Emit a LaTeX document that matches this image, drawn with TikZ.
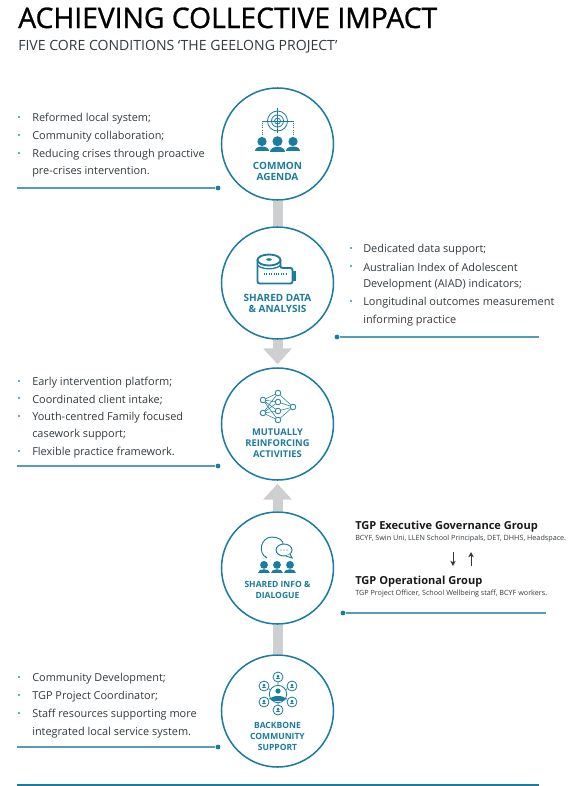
\documentclass[tikz,border=0pt]{standalone}
\usepackage{fontspec}
\setmainfont{Open Sans}
\newfontfamily\titlefont[RawFeature={embolden=0.9}]{Open Sans}
\usetikzlibrary{arrows.meta,backgrounds}
\definecolor{tealc}{HTML}{1B7C9E}
\definecolor{barc}{HTML}{CDCFD1}
\definecolor{textc}{HTML}{333A3F}
\definecolor{tickc}{HTML}{5FB3C6}
\tikzset{
  stage/.style={draw=tealc,line width=1.15pt,circle,fill=white,minimum size=84pt,inner sep=0pt},
  stagetext/.style={text=tealc,font=\fontsize{#1}{8.3pt}\selectfont\bfseries,align=center,inner sep=0pt},
  stagetext/.default=7.5pt,
  bar/.style={draw=barc,line width=7.5pt},
  bararrow/.style={bar,-{Triangle[length=12pt,width=21pt]},shorten >=2.2pt},
  item/.style={anchor=west,inner sep=0pt,yshift=-1.2pt,text=textc,font=\fontsize{8.2pt}{9pt}\selectfont},
  tick/.style={fill=tickc,minimum size=2.2pt,inner sep=0pt},
  dot/.style={circle,fill=tealc,minimum size=3.6pt,inner sep=0pt},
  leader/.style={draw=tealc!75,line width=.8pt},
  group/.style={anchor=west,inner sep=0pt,yshift=-1.2pt,text=black!90,font=\fontsize{8.3pt}{9pt}\selectfont\bfseries},
  groupsub/.style={anchor=west,inner sep=0pt,yshift=-.6pt,text=textc,font=\fontsize{5.4pt}{7pt}\selectfont},
  netdot/.style={circle,draw=tealc,fill=white,line width=.6pt,minimum size=4.2pt,inner sep=0pt},
  ringdot/.style={circle,draw=tealc,fill=white,line width=.6pt,minimum size=7.5pt,inner sep=0pt},
  person/.pic={
    \fill[tealc] (0,-2.5) circle (4.6);
    \fill[tealc] (-7,7) .. controls (-7,1) and (7,1) .. (7,7) -- cycle;
  },
}
\begin{document}
\begin{tikzpicture}[x=0.75pt,y=-0.75pt]
  \useasboundingbox (0,0) rectangle (570,786);

  % heading
  \node[anchor=base west,inner sep=0pt,font=\fontsize{21.2pt}{24pt}\titlefont,text=black] (title) at (18,28) {ACHIEVING COLLECTIVE IMPACT};
  \node[anchor=base west,inner sep=0pt,font=\fontsize{10.55pt}{12pt}\selectfont,text=textc] (subtitle) at (18,50) {FIVE CORE CONDITIONS ‘THE GEELONG PROJECT’};

  % circles
  \node[stage] (agenda) at (277.5,144) {};
  \node[stage] (data) at (277.5,283) {};
  \node[stage] (mutual) at (277.5,424) {};
  \node[stage] (dialogue) at (277.5,568) {};
  \node[stage] (backbone) at (277.5,711) {};

  % bars between circles
  \begin{scope}[on background layer]
    \draw[bar] (agenda) -- (data);
    \draw[bararrow] (data) -- (mutual);
    \draw[bararrow] (dialogue) -- (mutual);
    \draw[bar] (dialogue) -- (backbone);
  \end{scope}

  % labels in the circles
  \node[stagetext] (agendatext) at (277.5,171) {COMMON\\AGENDA};
  \node[stagetext] (datatext) at (277.5,303.5) {SHARED DATA\\\& ANALYSIS};
  \node[stagetext=7pt] (mutualtext) at (277.5,443) {MUTUALLY\\REINFORCING\\ACTIVITIES};
  \node[stagetext=6.4pt] (dialoguetext) at (277.5,589.5) {SHARED INFO \&\\DIALOGUE};
  \node[stagetext=6.4pt] (backbonetext) at (277.5,736.5) {BACKBONE\\COMMUNITY\\SUPPORT};

  % icon: target and people
  \draw[tealc,line width=.6pt] (277.5,121) circle (10);
  \draw[tealc,line width=.6pt] (277.5,121) circle (6);
  \draw[tealc,line width=.6pt] (277.5,121) circle (3);
  \draw[tealc,line width=.6pt] (262,121) -- (293,121);
  \draw[tealc,line width=.6pt] (277.5,108) -- (277.5,133);
  \draw[tealc,line width=.6pt,densely dotted] (262,121) -- (262,135);
  \draw[tealc,line width=.6pt,densely dotted] (293,121) -- (293,135);
  \pic at (262,144) {person};
  \pic[scale=1.1] at (277.5,144) {person};
  \pic at (293,144) {person};

  % icon: tape
  \draw[tealc,line width=1.4pt,fill=white,rounded corners=1.5pt] (257.5,260) -- (257.5,283.5) -- (292.5,283.5) -- (292.5,268) -- (280.5,268) -- (280.5,260);
  \fill[tealc] (293,271) rectangle (296,281);
  \draw[tealc,line width=1.4pt,fill=white] (269,260) ellipse (11.5 and 5.5);
  \fill[tealc] (269,259.5) ellipse (2.8 and 1.3);
  \draw[tealc,line width=1pt] (257.5,265) .. controls (261,270) and (277,270) .. (280.5,265);
  \draw[tealc,line width=1.6pt,dash pattern=on .6pt off 1.2pt] (264,274) -- (286,274);

  % icon: network
  \node[netdot] (n1) at (263,400) {};
  \node[netdot] (n2) at (263,413) {};
  \node[netdot] (n3) at (278,393) {};
  \node[netdot] (n4) at (278,402) {};
  \node[netdot] (n5) at (278,411) {};
  \node[netdot] (n6) at (278,420) {};
  \node[netdot] (n7) at (293,407) {};
  \draw[tealc,line width=.4pt] (n1) -- (n3) (n1) -- (n4) (n1) -- (n5) (n1) -- (n6);
  \draw[tealc,line width=.4pt] (n2) -- (n3) (n2) -- (n4) (n2) -- (n5) (n2) -- (n6);
  \draw[tealc,line width=.4pt] (n7) -- (n3) (n7) -- (n4) (n7) -- (n5) (n7) -- (n6);

  % icon: speech and people
  \draw[tealc,line width=.7pt] (265,556) -- (267,558) .. controls (257,553) and (261,537) .. (272,537) .. controls (279,537) and (284,541) .. (283,545);
  \draw[tealc,line width=.7pt,fill=white] (284,550) ellipse (8 and 6);
  \draw[tealc,line width=.7pt,fill=white] (290,554) -- (292,558) -- (286,556);
  \fill[tealc] (281,550) circle (.7) (284,550) circle (.7) (287,550) circle (.7);
  \pic[scale=.85] at (264,567) {person};
  \pic[scale=.85] at (277,567) {person};
  \pic[scale=.85] at (290,567) {person};

  % icon: ring of people
  \node[ringdot,minimum size=13pt] (hub) at (278,694) {};
  \node[ringdot] (r1) at (278,677) {};
  \node[ringdot] (r2) at (264,686) {};
  \node[ringdot] (r3) at (292,686) {};
  \node[ringdot] (r4) at (264,702) {};
  \node[ringdot] (r5) at (292,702) {};
  \node[ringdot] (r6) at (278,710) {};
  \draw[tealc,line width=.6pt] (hub) -- (r1) (hub) -- (r2) (hub) -- (r3) (hub) -- (r4) (hub) -- (r5) (hub) -- (r6);
  \fill[tealc] (278,691) circle (2.6);
  \fill[tealc] (270,699) .. controls (272,695) and (284,695) .. (286,699) .. controls (284,702) and (272,702) .. (270,699) -- cycle;
  \pic[scale=.33] at (278,677) {person};
  \pic[scale=.33] at (264,686) {person};
  \pic[scale=.33] at (292,686) {person};
  \pic[scale=.33] at (264,702) {person};
  \pic[scale=.33] at (292,702) {person};
  \pic[scale=.33] at (278,710) {person};

  % first list
  \node[tick] (t1) at (19,117) {};
  \node[item] (a1) at (32,117) {Reformed local system;};
  \node[tick] (t2) at (19,135) {};
  \node[item] (a2) at (32,135) {Community collaboration;};
  \node[tick] (t3) at (19,153) {};
  \node[item] (a3) at (32,153) {Reducing crises through proactive};
  \node[item] (a4) at (32,170) {pre-crises intervention.};

  % second list
  \node[tick] (t4) at (351,248) {};
  \node[item] (b1) at (363,248) {Dedicated data support;};
  \node[tick] (t5) at (351,266) {};
  \node[item] (b2) at (363,266) {Australian Index of Adolescent};
  \node[item] (b3) at (363,283) {Development (AIAD) indicators;};
  \node[tick] (t6) at (351,301) {};
  \node[item] (b4) at (363,301) {Longitudinal outcomes measurement};
  \node[item] (b5) at (363,319) {informing practice};

  % third list
  \node[tick] (t7) at (19,381) {};
  \node[item] (c1) at (32,381) {Early intervention platform;};
  \node[tick] (t8) at (19,398) {};
  \node[item] (c2) at (32,398) {Coordinated client intake;};
  \node[tick] (t9) at (19,416) {};
  \node[item] (c3) at (32,416) {Youth-centred Family focused};
  \node[item] (c4) at (32,433) {casework support;};
  \node[tick] (t10) at (19,451) {};
  \node[item] (c5) at (32,451) {Flexible practice framework.};

  % groups
  \node[group] (exec) at (355,525) {TGP Executive Governance Group};
  \node[groupsub] (execsub) at (355,538) {BCYF, Swin Uni, LLEN School Principals, DET, DHHS, Headspace.};
  \node[group] (oper) at (355,580) {TGP Operational Group};
  \node[groupsub] (opersub) at (355,593) {TGP Project Officer, School Wellbeing staff, BCYF workers.};
  \coordinate (downtop) at (453,552);
  \coordinate (downend) at (453,566);
  \coordinate (uptop) at (471,552);
  \coordinate (upend) at (471,566);
  \draw[-{Stealth[length=4pt,width=4pt]},line width=.6pt,textc] (downtop) -- (downend);
  \draw[-{Stealth[length=4pt,width=4pt]},line width=.6pt,textc] (upend) -- (uptop);

  % last list
  \node[tick] (t11) at (19,677) {};
  \node[item] (e1) at (32,677) {Community Development;};
  \node[tick] (t12) at (19,695) {};
  \node[item] (e2) at (32,695) {TGP Project Coordinator;};
  \node[tick] (t13) at (19,713) {};
  \node[item] (e3) at (32,713) {Staff resources supporting more};
  \node[item] (e4) at (32,731) {integrated local service system.};

  % leaders
  \coordinate (la) at (17,188);
  \node[dot] (da) at (218,188) {};
  \draw[leader] (la) -- (da);
  \coordinate (lb) at (539,337);
  \node[dot] (db) at (337,337) {};
  \draw[leader] (db) -- (lb);
  \coordinate (lc) at (17,466);
  \node[dot] (dc) at (218,466) {};
  \draw[leader] (lc) -- (dc);
  \coordinate (ld) at (546,613);
  \node[dot] (dd) at (343,613) {};
  \draw[leader] (dd) -- (ld);
  \coordinate (le) at (17,747);
  \node[dot] (de) at (218,747) {};
  \draw[leader] (le) -- (de);
  \coordinate (lf) at (17,785);
  \coordinate (lg) at (539,785);
  \draw[tealc,line width=.8pt] (lf) -- (lg);
\end{tikzpicture}
\end{document}
